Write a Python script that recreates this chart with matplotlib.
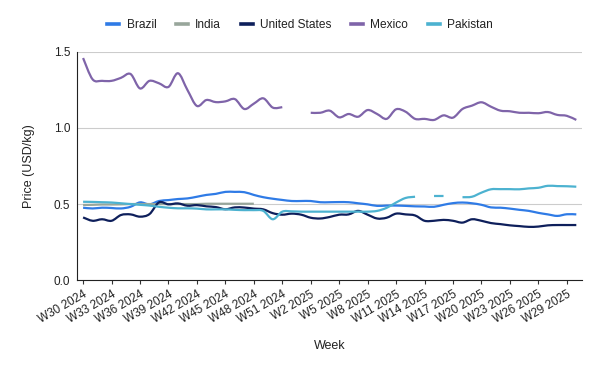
import numpy as np
import matplotlib.pyplot as plt
from matplotlib.path import Path
from matplotlib.patches import PathPatch
from matplotlib.lines import Line2D

plt.rcParams['font.family'] = ['Liberation Sans', 'DejaVu Sans']

nan = np.nan

weeks = [f'W{w} 2024' for w in range(30, 53)] + [f'W{w} 2025' for w in range(1, 31)]

brazil = [0.476, 0.471, 0.476, 0.474, 0.471, 0.482, 0.511, 0.498, 0.52, 0.526,
          0.533, 0.537, 0.548, 0.56, 0.567, 0.58, 0.58, 0.578, 0.56, 0.545,
          0.535, 0.527, 0.52, 0.52, 0.52, 0.512, 0.512, 0.513, 0.512, 0.505,
          0.498, 0.488, 0.49, 0.49, 0.488, 0.485, 0.484, 0.482, 0.495, 0.506,
          0.51, 0.505, 0.495, 0.478, 0.476, 0.47, 0.462, 0.455, 0.442, 0.432,
          0.422, 0.433, 0.432]

india = [0.494, 0.495, 0.497, 0.497, 0.498, 0.5, 0.5, 0.5, 0.5, 0.5,
         0.5, 0.5, 0.5, 0.502, 0.502, 0.502, 0.502, 0.502, 0.502] + [nan] * 34

usa = [0.412, 0.39, 0.40, 0.39, 0.428, 0.432, 0.417, 0.434, 0.511, 0.498,
       0.504, 0.489, 0.493, 0.485, 0.48, 0.466, 0.478, 0.477, 0.47, 0.465,
       0.44, 0.43, 0.437, 0.43, 0.41, 0.405, 0.415, 0.43, 0.432, 0.455,
       0.43, 0.405, 0.41, 0.437, 0.432, 0.425, 0.39, 0.39, 0.396, 0.39,
       0.378, 0.40, 0.39, 0.375, 0.368, 0.36, 0.355, 0.35, 0.352, 0.36,
       0.362, 0.362, 0.362]

mexico = [1.46, 1.32, 1.31, 1.31, 1.33, 1.355, 1.26, 1.31, 1.294, 1.27,
          1.36, 1.25, 1.145, 1.184, 1.17, 1.175, 1.19, 1.125, 1.16, 1.195,
          1.134, 1.137, nan, nan, 1.10, 1.10, 1.114, 1.07, 1.092, 1.074,
          1.118, 1.092, 1.06, 1.123, 1.107, 1.06, 1.06, 1.053, 1.083, 1.068,
          1.125, 1.147, 1.169, 1.14, 1.114, 1.11, 1.10, 1.10, 1.097, 1.105,
          1.086, 1.08, 1.053]

pakistan = [0.515, 0.514, 0.512, 0.51, 0.505, 0.50, 0.495, 0.49, 0.482, 0.476,
            0.472, 0.472, 0.47, 0.465, 0.465, 0.465, 0.462, 0.46, 0.46, 0.455,
            0.40, 0.45, 0.452, 0.45, 0.45, 0.45, 0.45, 0.45, 0.45, 0.45,
            0.45, 0.455, 0.475, 0.51, 0.54, 0.548, nan, 0.553, 0.553, nan,
            0.545, 0.548, 0.575, 0.597, 0.598, 0.598, 0.597, 0.603, 0.607, 0.62,
            0.618, 0.617, 0.614]

series = [('Brazil', brazil, '#2f7be6'),
          ('India', india, '#98a69b'),
          ('United States', usa, '#0e1f5b'),
          ('Mexico', mexico, '#7f64a9'),
          ('Pakistan', pakistan, '#4cb2d0')]


def smooth_path(xs, ys):
    # bezier path through the points (like the sheets "smooth" option)
    verts = [(xs[0], ys[0])]
    codes = [Path.MOVETO]
    n = len(xs)
    for i in range(n - 1):
        x0, y0 = (xs[i - 1], ys[i - 1]) if i > 0 else (xs[i], ys[i])
        x1, y1 = xs[i], ys[i]
        x2, y2 = xs[i + 1], ys[i + 1]
        x3, y3 = (xs[i + 2], ys[i + 2]) if i + 2 < n else (x2, y2)
        verts += [(x1 + (x2 - x0) / 6, y1 + (y2 - y0) / 6),
                  (x2 - (x3 - x1) / 6, y2 - (y3 - y1) / 6),
                  (x2, y2)]
        codes += [Path.CURVE4] * 3
    return Path(verts, codes)


fig = plt.figure(figsize=(6, 3.71), dpi=100)
ax = fig.add_axes([0.129, 0.245, 0.841, 0.615])

x = np.arange(len(weeks))
for name, vals, col in series:
    v = np.array(vals, dtype=float)
    ok = ~np.isnan(v)
    # split into runs without gaps
    start = None
    for i in range(len(v) + 1):
        if i < len(v) and ok[i]:
            if start is None:
                start = i
        elif start is not None:
            p = smooth_path(x[start:i], v[start:i])
            ax.add_patch(PathPatch(p, facecolor='none', edgecolor=col, lw=1.6,
                                   capstyle='butt'))
            start = None

ax.set_xlim(-0.6, len(weeks) - 0.4)
ax.set_ylim(0, 1.5)
ax.set_yticks([0, 0.5, 1.0, 1.5])
ax.set_yticklabels(['0.0', '0.5', '1.0', '1.5'], fontsize=8.5, color='#222222')
ax.grid(axis='y', color='#cccccc', lw=0.8)
ax.set_axisbelow(True)
ax.tick_params(axis='y', length=0, pad=5)

ax.set_xticks(x[::3])
ax.set_xticklabels(weeks[::3], rotation=30, ha='right', fontsize=8.5,
                   color='#222222', rotation_mode='anchor')
ax.tick_params(axis='x', length=3, width=0.8, color='#333333', pad=3)

for s in ['top', 'right']:
    ax.spines[s].set_visible(False)
ax.spines['left'].set_color('#222222')
ax.spines['bottom'].set_color('#222222')

ax.set_ylabel('Price (USD/kg)', fontsize=9, color='#222222', labelpad=14)
ax.set_xlabel('Week', fontsize=9, color='#222222', labelpad=10)

handles = [Line2D([], [], color=col, lw=2.6) for _, _, col in series]
fig.legend(handles, [s[0] for s in series], loc='center',
           bbox_to_anchor=(0.5, 1 - 25 / 371), ncol=5, frameon=False,
           fontsize=8.6, handlelength=1.0, handletextpad=0.6,
           columnspacing=1.65, labelcolor='#222222')

fig.savefig('out.png', dpi=100)
